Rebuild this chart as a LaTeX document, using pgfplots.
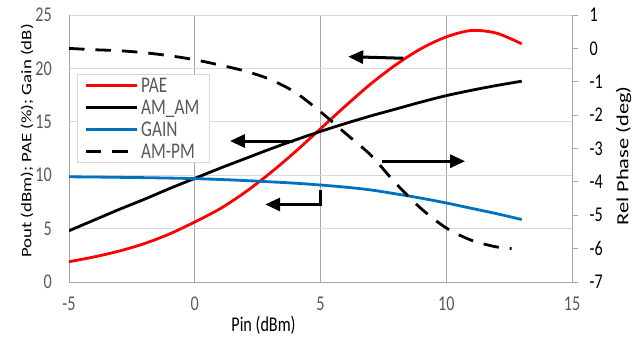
\documentclass[border=0pt]{standalone}
\usepackage{pgfplots}
\pgfplotsset{compat=1.18}
\usepackage{pgfplotstable}
\usepackage{fontspec}
\setmainfont{Carlito}
\newfontfamily\hfont[FakeStretch=0.77]{Carlito}
\newfontfamily\vfontL[FakeStretch=1.3]{Carlito}
\newfontfamily\vfontR[FakeStretch=1.32]{Carlito}
\usetikzlibrary{arrows.meta}
\definecolor{gridh}{HTML}{D9D9D9}
\definecolor{gridv}{HTML}{A6A6A6}
\definecolor{ticktext}{HTML}{595959}
\definecolor{gainblue}{HTML}{0070C0}

\pgfplotstableread{
pin pae amam gain
-5 1.9 4.8 9.85
-4 2.35 5.8 9.83
-3 2.9 6.8 9.80
-2 3.6 7.75 9.77
-1 4.5 8.75 9.73
0 5.62 9.7 9.68
1 6.85 10.65 9.60
2 8.4 11.55 9.50
3 10.2 12.45 9.38
4 12.2 13.3 9.25
5 14.35 14.1 9.08
6 16.5 14.85 8.88
7 18.55 15.55 8.62
8 20.35 16.2 8.25
9 21.85 16.85 7.85
10 22.95 17.45 7.40
11 23.55 17.95 6.90
12 23.3 18.4 6.40
13 22.3 18.8 5.85
}\maindata

\pgfplotstableread{
pin ampm
-5 0.0
-4 -0.04
-3 -0.07
-2 -0.13
-1 -0.22
0 -0.34
1 -0.5
2 -0.68
3 -0.93
4 -1.32
5 -1.9
6 -2.55
7 -3.2
8 -4.05
9 -4.8
10 -5.38
11 -5.75
12 -5.95
12.6 -6.0
}\phasedata

\tikzset{ann/.style={black, line width=3bp, -{Triangle[length=15bp,width=13bp]}}}

\begin{document}
\begin{tikzpicture}
\useasboundingbox (-69bp,-55bp) rectangle (565bp,282bp);
\begin{axis}[
  scale only axis, width=503bp, height=267bp,
  xmin=-5, xmax=15, ymin=0, ymax=25,
  axis x line*=bottom, axis y line*=left,
  x axis line style={-, draw=gridv, line width=0.8bp},
  y axis line style={-, draw=gridv, line width=0.8bp},
  xtick={-5,0,5,10,15}, xticklabels={-5,0,5,10,15},
  ytick={0,5,10,15,20,25}, yticklabels={0,5,10,15,20,25},
  major tick length=0pt,
  xmajorgrids, ymajorgrids,
  x grid style={draw=gridv, line width=0.8bp},
  y grid style={draw=gridh, line width=0.8bp},
  tick label style={font=\fontsize{21bp}{25bp}\hfont, text=ticktext, inner sep=0pt},
  xticklabel style={anchor=north, yshift=-15bp},
  yticklabel style={anchor=east, xshift=-17bp},
  xlabel={Pin (dBm)},
  xlabel style={at={(axis description cs:0.3867,-0.161)}, anchor=center, inner sep=0pt, font=\fontsize{21bp}{25bp}\hfont, text=black},
  ylabel={Pout (dBm); PAE (\%); Gain (dB)},
  ylabel style={at={(axis description cs:-0.0835,0.528)}, anchor=center, rotate=0, inner sep=0pt, font=\fontsize{14.5bp}{17bp}\vfontL, text=black},
  legend style={at={(rel axis cs:0.0159,0.779)}, anchor=north west, draw=gridh, line width=0.8bp, fill=white,
    inner xsep=7bp, inner ysep=0bp, font=\fontsize{22.4bp}{26bp}\hfont, text=ticktext,
    nodes={inner xsep=3bp, inner ysep=0pt, text height=18bp, text depth=4bp}},
  legend cell align=left,
  legend image code/.code={\draw[#1] (0bp,0bp) -- (51bp,0bp);},
]
\addplot[red, line width=2.8bp, smooth] table[x=pin, y=pae] {\maindata};
\addlegendentry{PAE}
\addplot[black, line width=2.8bp, smooth] table[x=pin, y=amam] {\maindata};
\addlegendentry{AM\_AM}
\addplot[gainblue, line width=2.8bp, smooth] table[x=pin, y=gain] {\maindata};
\addlegendentry{GAIN}
\addlegendimage{black, line width=2.8bp, dash pattern=on 15.5bp off 11bp}
\addlegendentry{AM-PM}
\draw[ann] (axis cs:8.29,20.95) -- (axis cs:6.1,21.1);
\draw[ann] (axis cs:3.92,13.2) -- (axis cs:1.4,13.2);
\draw[ann] (axis cs:7.44,11.31) -- (axis cs:10.75,11.31);
\draw[ann, line join=miter] (axis cs:5.0,8.6) -- (axis cs:5.0,7.26) -- (axis cs:2.8,7.26);
\end{axis}
\begin{axis}[
  scale only axis, width=503bp, height=267bp,
  xmin=-5, xmax=15, ymin=-7, ymax=1,
  axis x line=none, axis y line*=right,
  y axis line style={-, draw=gridv, line width=0.8bp},
  ytick={-7,-6,-5,-4,-3,-2,-1,0,1}, yticklabels={-7,-6,-5,-4,-3,-2,-1,0,1},
  tick align=outside, major tick length=6bp,
  ytick style={draw=gridv, line width=0.8bp},
  yticklabel style={font=\fontsize{21bp}{25bp}\hfont, text=black, inner sep=0pt, anchor=west, xshift=11.5bp},
  ylabel={Rel Phase (deg)},
  ylabel style={at={(axis description cs:1.1024,0.472)}, anchor=center, rotate=0, inner sep=0pt, font=\fontsize{17bp}{20bp}\vfontR, text=black},
]
\addplot[black, line width=2.8bp, dash pattern=on 15.5bp off 11bp, smooth] table[x=pin, y=ampm] {\phasedata};
\end{axis}
\end{tikzpicture}
\end{document}
